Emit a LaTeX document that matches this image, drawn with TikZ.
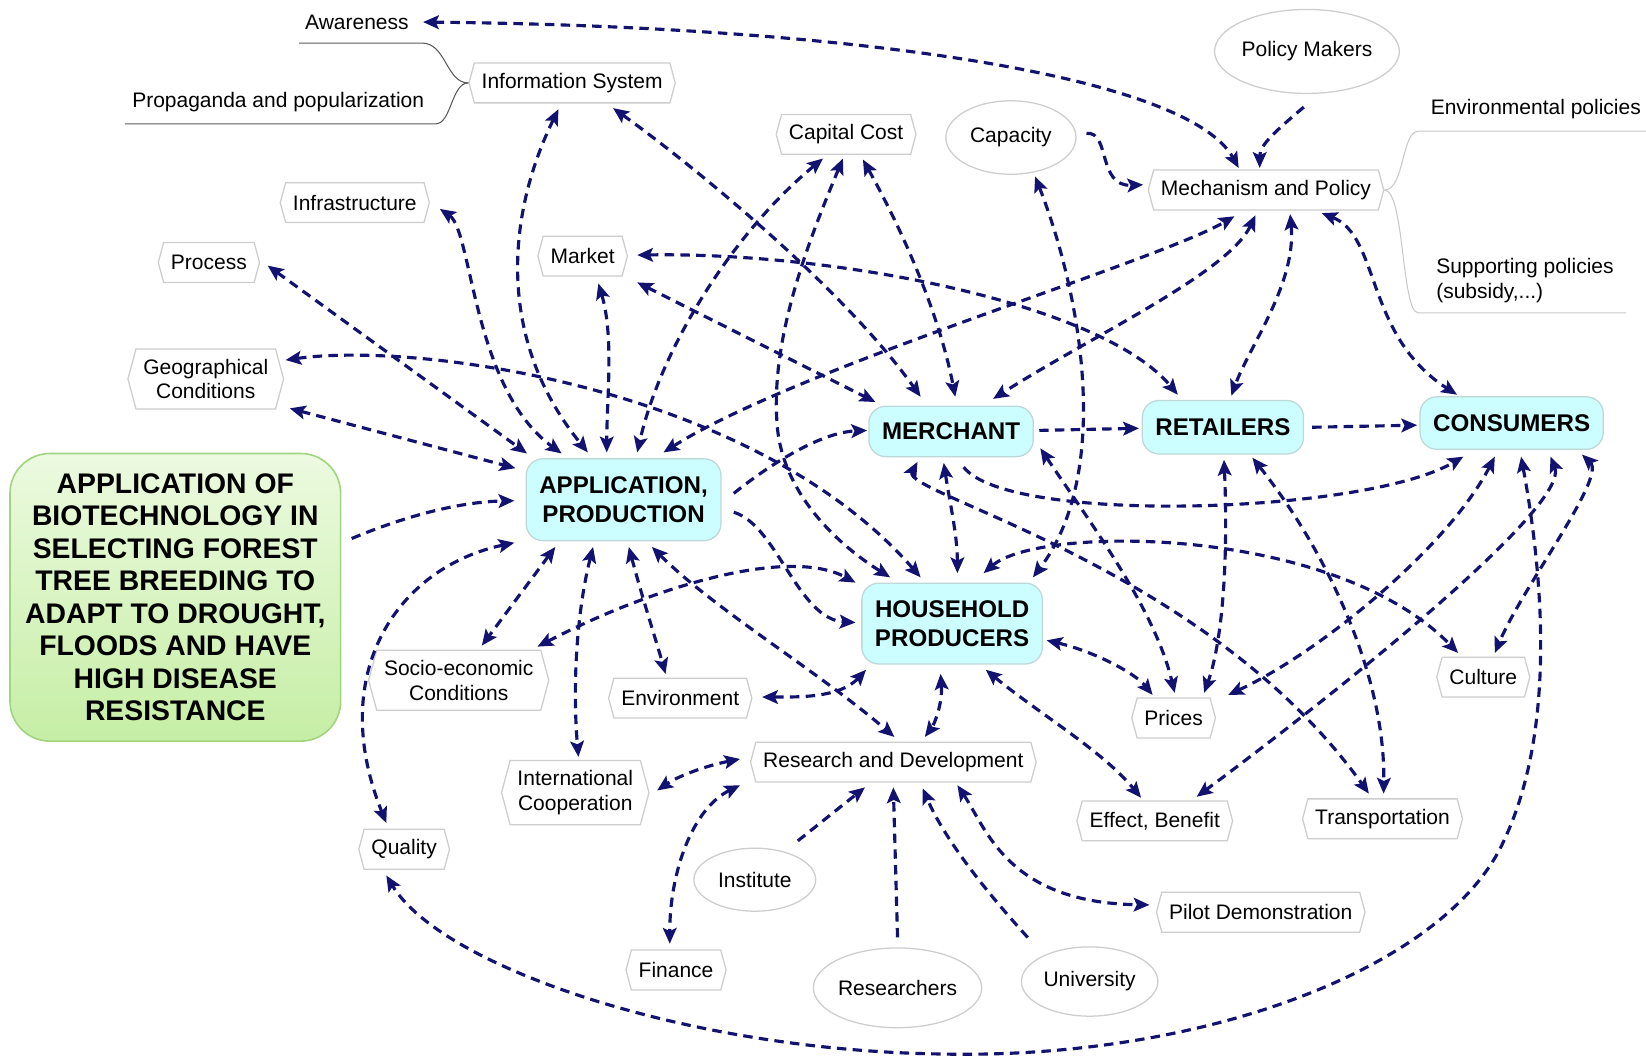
\documentclass[tikz,border=0pt]{standalone}
\usepackage{fontspec}
\setmainfont{Liberation Sans}
\usetikzlibrary{arrows.meta,shapes.symbols,shapes.geometric}
\definecolor{navy}{RGB}{18,18,112}
\definecolor{boxline}{RGB}{205,205,205}
\definecolor{cyanfill}{RGB}{204,253,255}
\definecolor{cyanline}{RGB}{190,215,215}
\definecolor{greentop}{RGB}{236,250,224}
\definecolor{greenbot}{RGB}{198,238,165}
\definecolor{greenline}{RGB}{160,212,125}
\definecolor{branchdark}{RGB}{90,90,90}
\definecolor{branchlight}{RGB}{200,200,200}
\begin{document}
\begin{tikzpicture}[x=1pt,y=-1pt,
  txt/.style={font=\fontsize{20}{23.5}\selectfont, inner sep=0pt},
  hexbox/.style={signal, signal to=west and east, signal pointer angle=150, draw=boxline, line width=1.2pt, fill=white, font=\fontsize{20}{23.5}\selectfont, inner xsep=7pt, inner ysep=9.5pt, minimum height=38pt, align=center},
  ell/.style={ellipse, draw=boxline, line width=1.2pt, fill=white, font=\fontsize{20}{23.5}\selectfont, inner sep=0pt},
  actor/.style={rectangle, rounded corners=16pt, draw=cyanline, line width=1.2pt, fill=cyanfill, font=\fontsize{23}{27.5}\selectfont\bfseries, inner xsep=12.5pt, minimum height=50pt, align=center},
  lk/.style={draw=navy, line width=3pt, dash pattern=on 9pt off 6pt},
  bi/.style={lk, {Stealth[length=15pt,width=13pt,inset=3pt]}-{Stealth[length=15pt,width=13pt,inset=3pt]}},
  uni/.style={lk, -{Stealth[length=15pt,width=13pt,inset=3pt]}},
  branch/.style={line width=1pt}
]
\useasboundingbox (0,0) rectangle (1568,1010);

% plain texts
\node[txt] (awareness) at (340,21) {Awareness};
\node[txt] (propaganda) at (265,97) {Propaganda and popularization};
\node[txt] (envpol) at (1463,104) {Environmental policies};
\node[txt, anchor=west, align=left] (suppol) at (1368,267) {Supporting policies\\(subsidy,...)};

% hex boxes
\node[hexbox] (info) at (545,79) {Information System};
\node[hexbox] (infra) at (338,193) {Infrastructure};
\node[hexbox] (process) at (199,250) {Process};
\node[hexbox] (market) at (555,244) {Market};
\node[hexbox] (geog) at (196,361) {Geographical\\Conditions};
\node[hexbox] (capcost) at (806,128) {Capital Cost};
\node[hexbox] (mech) at (1206,181) {Mechanism and Policy};
\node[hexbox] (socio) at (437,648) {Socio-economic\\Conditions};
\node[hexbox] (envir) at (648,665) {Environment};
\node[hexbox] (intl) at (548,755) {International\\Cooperation};
\node[hexbox] (rd) at (851,726) {Research and Development};
\node[hexbox] (quality) at (385,809) {Quality};
\node[hexbox] (finance) at (644,924) {Finance};
\node[hexbox] (pilot) at (1201,869) {Pilot Demonstration};
\node[hexbox] (prices) at (1118,684) {Prices};
\node[hexbox] (effect) at (1100,782) {Effect, Benefit};
\node[hexbox] (transport) at (1317,780) {Transportation};
\node[hexbox] (culture) at (1413,645) {Culture};

% ellipses
\node[ell, minimum width=124pt, minimum height=70pt] (capacity) at (963,131) {Capacity};
\node[ell, minimum width=164pt, minimum height=80pt] (policy) at (1245,49) {Policy Makers};
\node[ell, minimum width=116pt, minimum height=60pt] (institute) at (719,838) {Institute};
\node[ell, minimum width=152pt, minimum height=76pt] (researchers) at (855,941) {Researchers};
\node[ell, minimum width=130pt, minimum height=66pt] (university) at (1038,935) {University};

% actors
\node[actor, minimum height=78pt] (app) at (594,476) {APPLICATION,\\PRODUCTION};
\node[actor, minimum height=48pt] (merchant) at (906,411) {MERCHANT};
\node[actor, minimum height=51pt] (retailers) at (1165,407) {RETAILERS};
\node[actor] (consumers) at (1440,403) {CONSUMERS};
\node[actor, minimum height=77pt] (hh) at (907,594) {HOUSEHOLD\\PRODUCERS};

\node[rectangle, rounded corners=38pt, draw=greenline, line width=1.5pt, top color=greentop, bottom color=greenbot, minimum width=315pt, minimum height=274pt, align=center, font=\fontsize{27}{31}\selectfont\bfseries] (green) at (167,569) {APPLICATION OF\\BIOTECHNOLOGY IN\\SELECTING FOREST\\TREE BREEDING TO\\ADAPT TO DROUGHT,\\FLOODS AND HAVE\\HIGH DISEASE\\RESISTANCE};

% branch lines
\draw[branch, draw=branchdark] ([shift={(-55,20)}]awareness.center) -- ([shift={(62,20)}]awareness.center) .. controls (425,41) and (425,79) .. (info.west);
\draw[branch, draw=branchdark] ([shift={(-146,21)}]propaganda.center) -- ([shift={(150,21)}]propaganda.center) .. controls (430,118) and (430,79) .. (info.west);
\draw[branch, draw=branchlight] (mech.east) .. controls (1338,181) and (1335,125) .. (1351,125) -- ([shift={(105,21)}]envpol.center);
\draw[branch, draw=branchlight] (mech.east) .. controls (1338,181) and (1335,298) .. (1351,298) -- ([shift={(181,31)}]suppol.west);

% connectors
\draw[bi] ([shift={(63,0)}]awareness.center) .. controls (800,25) and (1130,70) .. ([shift={(-26,-21)}]mech.center);
\draw[uni] ([shift={(-3,53)}]policy.center) .. controls (1215,125) and (1200,138) .. ([shift={(-6,-21)}]mech.center);
\draw[uni] ([shift={(72,-4)}]capacity.center) .. controls (1058,125) and (1045,178) .. ([shift={(-117,-5)}]mech.center);
\draw[bi] ([shift={(53,22)}]mech.center) .. controls (1315,225) and (1300,320) .. ([shift={(-52,-27)}]consumers.center);
\draw[bi] ([shift={(23,23)}]mech.center) .. controls (1235,270) and (1190,330) .. ([shift={(8,-30)}]retailers.center);
\draw[bi] ([shift={(-10,24)}]mech.center) .. controls (1170,260) and (1040,320) .. ([shift={(40,-31)}]merchant.center);
\draw[bi] ([shift={(38,-45)}]app.center) .. controls (760,350) and (1100,250) .. ([shift={(-30,25)}]mech.center);
\draw[bi] ([shift={(-13,25)}]info.center) .. controls (485,200) and (470,320) .. ([shift={(-34,-45)}]app.center);
\draw[bi] ([shift={(81,6)}]infra.center) .. controls (450,220) and (450,370) .. ([shift={(-59,-44)}]app.center);
\draw[bi] ([shift={(56,3)}]process.center) -- ([shift={(-92,-44)}]app.center);
\draw[bi] ([shift={(76,-18)}]geog.center) .. controls (400,325) and (720,370) .. ([shift={(-30,-44)}]hh.center);
\draw[bi] ([shift={(80,28)}]geog.center) -- ([shift={(-103,-30)}]app.center);
\draw[bi] ([shift={(15,26)}]market.center) .. controls (585,320) and (578,380) .. ([shift={(-16,-45)}]app.center);
\draw[bi] ([shift={(52,25)}]market.center) -- ([shift={(-72,-28)}]merchant.center);
\draw[bi] ([shift={(52,-1)}]market.center) .. controls (800,240) and (1050,290) .. ([shift={(-43,-31)}]retailers.center);
\draw[bi] ([shift={(39,24)}]info.center) .. controls (650,150) and (800,270) .. ([shift={(-29,-33)}]merchant.center);
\draw[bi] ([shift={(-22,23)}]capcost.center) .. controls (700,220) and (630,330) .. ([shift={(13,-45)}]app.center);
\draw[bi] ([shift={(-3,23)}]capcost.center) .. controls (770,230) and (735,320) .. (740,400) .. controls (743,470) and (800,520) .. ([shift={(-59,-44)}]hh.center);
\draw[bi] ([shift={(16,24)}]capcost.center) .. controls (860,220) and (895,300) .. ([shift={(4,-33)}]merchant.center);
\draw[bi] ([shift={(23,37)}]capacity.center) .. controls (1030,280) and (1060,450) .. ([shift={(77,-44)}]hh.center);
\draw[uni] ([shift={(105,-6)}]app.center) .. controls (730,445) and (780,412) .. ([shift={(-80,-1)}]merchant.center);
\draw[uni] ([shift={(105,12)}]app.center) .. controls (740,500) and (760,590) .. ([shift={(-92,-1)}]hh.center);
\draw[uni] ([shift={(84,-1)}]merchant.center) -- ([shift={(-80,1)}]retailers.center);
\draw[uni] ([shift={(85,0)}]retailers.center) -- ([shift={(-90,2)}]consumers.center);
\draw[bi] ([shift={(-7,30)}]merchant.center) .. controls (905,480) and (912,510) .. ([shift={(5,-48)}]hh.center);
\draw[bi] ([shift={(-32,29)}]merchant.center) .. controls (858,470) and (1150,540) .. ([shift={(-13,-24)}]transport.center);
\draw[uni] ([shift={(12,34)}]merchant.center) .. controls (960,500) and (1300,490) .. ([shift={(-46,32)}]consumers.center);
\draw[bi] ([shift={(85,16)}]merchant.center) .. controls (1040,500) and (1100,580) .. ([shift={(1,-24)}]prices.center);
\draw[bi] ([shift={(1,31)}]retailers.center) .. controls (1170,530) and (1165,610) .. ([shift={(29,-24)}]prices.center);
\draw[bi] ([shift={(-16,32)}]consumers.center) .. controls (1380,520) and (1260,620) .. ([shift={(52,-22)}]prices.center);
\draw[bi] ([shift={(28,29)}]retailers.center) .. controls (1260,520) and (1320,640) .. ([shift={(1,-24)}]transport.center);
\draw[bi] ([shift={(90,16)}]hh.center) .. controls (1040,620) and (1080,640) .. ([shift={(-20,-22)}]prices.center);
\draw[bi] ([shift={(32,44)}]hh.center) .. controls (990,680) and (1050,715) .. ([shift={(-13,-22)}]effect.center);
\draw[bi] ([shift={(37,32)}]consumers.center) .. controls (1495,480) and (1300,640) .. ([shift={(40,-23)}]effect.center);
\draw[bi] ([shift={(67,30)}]consumers.center) .. controls (1530,455) and (1450,560) .. ([shift={(11,-23)}]culture.center);
\draw[bi] ([shift={(30,-48)}]hh.center) .. controls (990,500) and (1270,500) .. ([shift={(-24,-23)}]culture.center);
\draw[bi] ([shift={(9,32)}]consumers.center) .. controls (1472,560) and (1480,700) .. (1433,800) .. controls (1380,920) and (1150,1010) .. (894,1004) .. controls (650,1000) and (420,920) .. ([shift={(-17,25)}]quality.center);
\draw[bi] ([shift={(-104,41)}]app.center) .. controls (380,540) and (310,640) .. ([shift={(-17,-25)}]quality.center);
\draw[bi] ([shift={(-65,45)}]app.center) -- ([shift={(22,-33)}]socio.center);
\draw[bi] ([shift={(-29,45)}]app.center) .. controls (550,580) and (545,650) .. ([shift={(3,-34)}]intl.center);
\draw[bi] ([shift={(5,45)}]app.center) .. controls (612,570) and (625,610) .. ([shift={(-14,-23)}]envir.center);
\draw[bi] ([shift={(27,45)}]app.center) .. controls (680,580) and (780,640) .. ([shift={(1,-24)}]rd.center);
\draw[bi] ([shift={(75,-32)}]socio.center) .. controls (620,560) and (750,520) .. ([shift={(-92,-39)}]hh.center);
\draw[bi] ([shift={(-82,44)}]hh.center) .. controls (800,665) and (760,664) .. ([shift={(78,-1)}]envir.center);
\draw[bi] ([shift={(-11,48)}]hh.center) .. controls (898,670) and (890,690) .. ([shift={(30,-24)}]rd.center);
\draw[bi] ([shift={(-146,-3)}]rd.center) .. controls (670,730) and (645,740) .. ([shift={(78,-2)}]intl.center);
\draw[bi] ([shift={(-146,22)}]rd.center) .. controls (660,770) and (638,830) .. ([shift={(-6,-25)}]finance.center);
\draw[uni] ([shift={(41,-37)}]institute.center) -- ([shift={(-27,24)}]rd.center);
\draw[uni] ([shift={(0,-48)}]researchers.center) -- ([shift={(0,24)}]rd.center);
\draw[uni] ([shift={(-59,-42)}]university.center) .. controls (940,850) and (900,800) .. ([shift={(28,25)}]rd.center);
\draw[bi] ([shift={(61,22)}]rd.center) .. controls (940,790) and (960,860) .. ([shift={(-106,-7)}]pilot.center);
\draw[uni] ([shift={(168,-56)}]green.center) .. controls (390,490) and (440,478) .. ([shift={(-104,1)}]app.center);
\end{tikzpicture}
\end{document}
